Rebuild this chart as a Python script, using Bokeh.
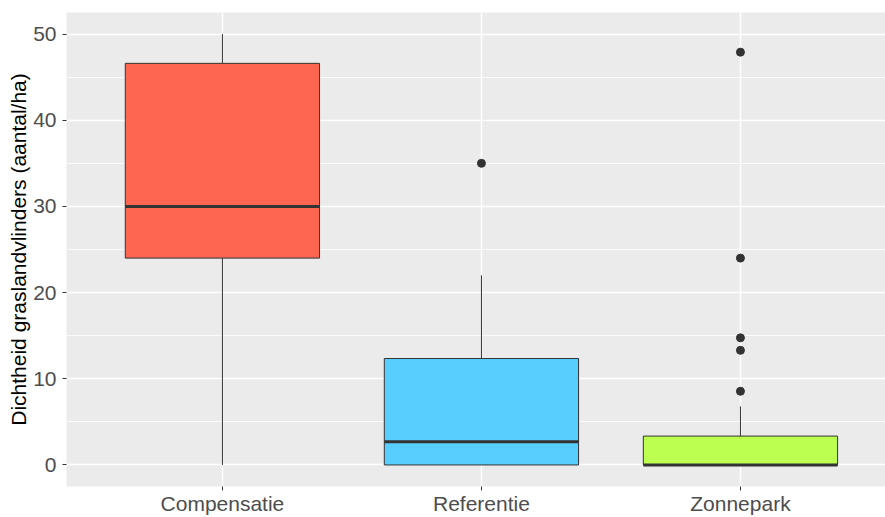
from bokeh.plotting import figure
from bokeh.models import Range1d, FixedTicker, ColumnDataSource
from bokeh.embed import file_html
from bokeh.resources import INLINE

categories = ["Compensatie", "Referentie", "Zonnepark"]
lower = [0.0, 0.0, 0.0]
q1 = [24.0, 0.0, 0.0]
median = [30.0, 2.7, 0.0]
q3 = [46.6, 12.35, 3.35]
upper = [50.0, 22.0, 6.8]
box_colors = ["#FF6652", "#58CEFF", "#BDFF50"]
outlier_cat = ["Referentie", "Zonnepark", "Zonnepark", "Zonnepark", "Zonnepark", "Zonnepark"]
outlier_val = [35.0, 8.55, 13.3, 14.75, 24.0, 47.9]
y_ticks = [0, 10, 20, 30, 40, 50]
y_minor = [5, 15, 25, 35, 45]

xpos = [i + 1 for i in range(len(categories))]
half = 0.375
src = ColumnDataSource(dict(
    x=xpos, lower=lower, q1=q1, median=median, q3=q3, upper=upper,
    color=box_colors,
    left=[x - half for x in xpos], right=[x + half for x in xpos],
))
out_src = ColumnDataSource(dict(
    x=[categories.index(c) + 1 for c in outlier_cat], y=outlier_val,
))

FONT = "Liberation Sans"
p = figure(width=885, height=517, output_backend="svg", toolbar_location=None,
           x_range=Range1d(0.398, 3.56), y_range=Range1d(-2.5, 52.5),
           min_border_top=12, min_border_right=0, min_border_left=66, min_border_bottom=0)
p.background_fill_color = "#EBEBEB"
p.border_fill_color = "white"
p.outline_line_color = None

# grids
p.xgrid.ticker = FixedTicker(ticks=xpos)
p.xgrid.grid_line_color = "white"
p.xgrid.grid_line_width = 1.5
p.ygrid.ticker = FixedTicker(ticks=y_ticks, minor_ticks=y_minor)
p.ygrid.grid_line_color = "white"
p.ygrid.grid_line_width = 1.5
p.ygrid.minor_grid_line_color = "white"
p.ygrid.minor_grid_line_width = 0.8

# axes
p.xaxis.ticker = FixedTicker(ticks=xpos)
p.xaxis.major_label_overrides = {x: c for x, c in zip(xpos, categories)}
p.yaxis.ticker = FixedTicker(ticks=y_ticks, minor_ticks=y_minor)
for ax in (p.xaxis[0], p.yaxis[0]):
    ax.axis_line_color = None
    ax.major_tick_line_color = "#333333"
    ax.major_tick_in = 0
    ax.major_tick_out = 4
    ax.minor_tick_line_color = None
    ax.major_label_text_font = FONT
    ax.major_label_text_font_size = "21px"
    ax.major_label_text_color = "#4D4D4D"
p.xaxis.major_label_standoff = 1
p.yaxis.major_label_standoff = 6
p.yaxis.axis_label = "Dichtheid graslandvlinders (aantal/ha)"
p.yaxis.axis_label_text_font = FONT
p.yaxis.axis_label_text_font_size = "21px"
p.yaxis.axis_label_text_font_style = "normal"
p.yaxis.axis_label_text_color = "black"
p.yaxis.axis_label_standoff = 0

# whiskers
p.segment(x0="x", y0="q3", x1="x", y1="upper", source=src, line_color="#333333", line_width=1)
p.segment(x0="x", y0="lower", x1="x", y1="q1", source=src, line_color="#333333", line_width=1)
# boxes
p.vbar(x="x", width=2 * half, bottom="q1", top="q3", source=src,
       fill_color="color", line_color="#333333", line_width=1)
# medians
p.segment(x0="left", y0="median", x1="right", y1="median", source=src,
          line_color="#333333", line_width=3)
# outliers
p.scatter(x="x", y="y", source=out_src, size=8, color="#333333")

open("out.html", "w").write(file_html(p, INLINE))
